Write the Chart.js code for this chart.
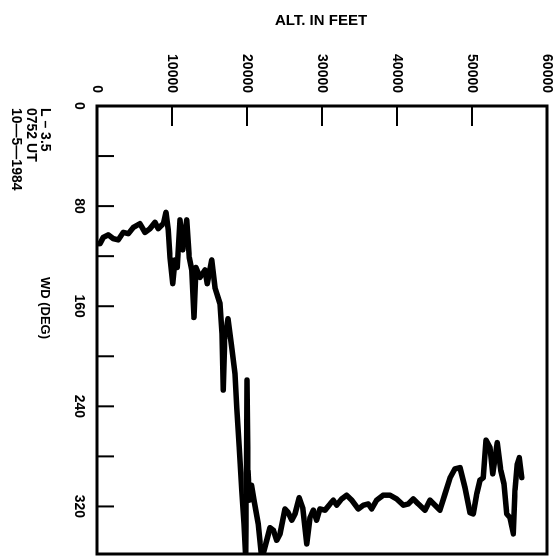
<!DOCTYPE html>
<html>
<head>
<meta charset="utf-8">
<script src="https://cdn.jsdelivr.net/npm/chart.js@4.4.1/dist/chart.umd.min.js"></script>
<style>
  html, body { margin: 0; padding: 0; background: #fff; overflow: hidden; }
  /* the plot is drawn upright and turned a quarter turn clockwise */
  #wrap {
    position: absolute; left: 0; top: 0;
    width: 558px; height: 559px;
    transform-origin: 0 0;
    transform: translate(559px, 0) rotate(90deg);
  }
</style>
</head>
<body>
<div id="wrap"><canvas id="wdChart"></canvas></div>
<script>
// altitude (feet) and wind direction (deg)
const altFeet = [0, 400, 840, 1510, 2170, 2840, 3510, 4170, 4840, 5730, 6400, 7070, 7730, 8170, 8840,
  9200, 9510, 9730, 10090, 10400, 10710, 11070, 11430, 11960, 12310, 12630, 12930, 13200, 13730, 14400,
  14710, 15290, 15730, 16400, 16670, 16840, 17030, 17470, 17960, 18400, 18630, 18970, 19290, 19600, 19830,
  19930, 20000, 20130, 20330, 20600, 20930, 21510, 21960, 22630, 23070, 23510, 23960, 24400, 25070, 25510,
  25960, 26400, 26970, 27430, 27960, 28400, 28840, 29290, 29730, 30400, 31070, 31510, 31960, 32630, 33290,
  33960, 34840, 35510, 36170, 36630, 37290, 38170, 39070, 39960, 40840, 41510, 42170, 42840, 43730, 44400,
  45070, 45730, 46400, 47070, 47730, 48400, 49070, 49730, 50170, 50630, 51070, 51510, 51870, 52400, 52760,
  53370, 53830, 54270, 54630, 55070, 55510, 55730, 56040, 56310, 56630];
const windDeg = [110, 110, 105, 103, 106, 107, 101, 102, 97, 94, 101, 98, 93, 98, 94,
  85, 99, 121, 142, 123, 129, 91, 115, 91, 121, 131, 169, 129, 137, 131,
  142, 123, 145, 158, 182, 227, 186, 170, 193, 214, 241, 273, 307, 334, 362,
  291, 219, 291, 315, 303, 315, 334, 362, 347, 337, 339, 347, 342, 322, 325,
  331, 326, 313, 321, 350, 329, 323, 331, 322, 323, 318, 315, 319, 314, 311,
  315, 322, 319, 318, 322, 315, 311, 311, 314, 319, 318, 314, 318, 323, 315,
  319, 323, 310, 297, 290, 289, 305, 325, 326, 310, 299, 297, 267, 273, 294,
  269, 291, 302, 326, 329, 342, 307, 286, 281, 297];

const wdTicks = [0, 40, 80, 120, 160, 200, 240, 280, 320];
const wdLabels = [0, 80, 160, 240, 320];
const altTicks = [0, 10000, 20000, 30000, 40000, 50000, 60000];

const noteLines = ['L \u2013 3.5', '0752 UT', '10\u20145\u20141984'];

const tickFont = { family: 'Liberation Sans', weight: 'bold', size: 14 };

// frame, inward tick marks and the loose texts
const framePlugin = {
  id: 'framePlugin',
  afterDatasetsDraw(chart) {
    const ctx = chart.ctx;
    const a = chart.chartArea;
    const x = chart.scales.x;
    const y = chart.scales.y;
    ctx.save();
    ctx.strokeStyle = '#000';
    ctx.lineWidth = 3;
    ctx.strokeRect(a.left, a.top, a.right - a.left, a.bottom - a.top);

    ctx.lineWidth = 2;
    ctx.beginPath();
    x.ticks.forEach(t => {
      const px = x.getPixelForValue(t.value);
      ctx.moveTo(px, a.bottom);
      ctx.lineTo(px, a.bottom - 17);
    });
    y.ticks.forEach(t => {
      const py = y.getPixelForValue(t.value);
      ctx.moveTo(a.left, py);
      ctx.lineTo(a.left + 20, py);
    });
    ctx.stroke();

    ctx.fillStyle = '#000';
    ctx.textBaseline = 'middle';

    // y title, reads left to right once the page is turned
    ctx.save();
    ctx.translate(21, (a.top + a.bottom) / 2 + 1);
    ctx.rotate(-Math.PI / 2);
    ctx.textAlign = 'center';
    ctx.font = 'bold 15px "Liberation Sans"';
    ctx.fillText('ALT. IN FEET', 0, 0);
    ctx.restore();

    ctx.font = 'bold 13px "Liberation Sans"';
    ctx.textAlign = 'center';
    ctx.fillText('WD (DEG)', 308, 514);

    ctx.font = 'bold 14px "Liberation Sans"';
    ctx.textAlign = 'left';
    noteLines.forEach((s, i) => ctx.fillText(s, 108, 514 + i * 14.5));
    ctx.restore();
  }
};

const wdChart = create_chart();

function create_chart() {
  const points = altFeet.map((alt, i) => ({ x: windDeg[i], y: alt }));
  const ctx = document.getElementById('wdChart').getContext('2d');
  return new Chart(ctx, {
    type: 'scatter',
    data: {
      datasets: [{
        label: 'WD',
        data: points,
        showLine: true,
        borderColor: '#000',
        borderWidth: 5.5,
        borderJoinStyle: 'round',
        borderCapStyle: 'round',
        pointRadius: 0,
        tension: 0
      }]
    },
    options: {
      responsive: true,
      maintainAspectRatio: false,
      animation: false,
      layout: { padding: { top: 12, right: 4, left: 0, bottom: 0 } },
      plugins: {
        legend: { display: false },
        tooltip: { enabled: false }
      },
      scales: {
        x: {
          type: 'linear',
          position: 'bottom',
          min: 0,
          max: 358,
          afterBuildTicks: scale => { scale.ticks = wdTicks.map(v => ({ value: v })); },
          afterFit: scale => {
            scale.height = 97;
            scale.paddingLeft = 0;
            scale.paddingRight = 0;
          },
          grid: { display: false, drawTicks: false },
          border: { display: false },
          ticks: {
            color: '#000',
            font: tickFont,
            padding: 10,
            maxRotation: 0,
            autoSkip: false,
            callback: v => wdLabels.includes(v) ? String(v) : ''
          }
        },
        y: {
          type: 'linear',
          min: 0,
          max: 60000,
          afterBuildTicks: scale => { scale.ticks = altTicks.map(v => ({ value: v })); },
          afterFit: scale => {
            scale.width = 106;
            scale.paddingTop = 0;
            scale.paddingBottom = 0;
          },
          grid: { display: false, drawTicks: false },
          border: { display: false },
          ticks: {
            color: '#000',
            font: tickFont,
            padding: 13,
            autoSkip: false,
            callback: v => String(v)
          }
        }
      }
    },
    plugins: [framePlugin]
  });
}
</script>
</body>
</html>
